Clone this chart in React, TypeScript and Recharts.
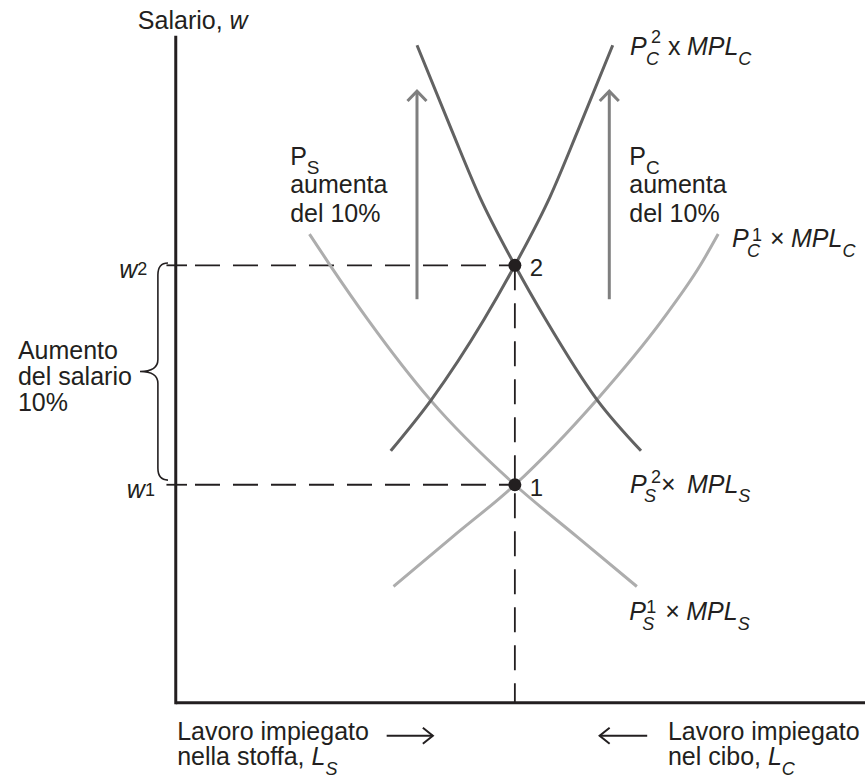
import React from "react";
import {
  ComposedChart,
  Line,
  XAxis,
  YAxis,
  ReferenceLine,
  ReferenceDot,
  ReferenceArea,
} from "recharts";

const WIDTH = 865;
const HEIGHT = 778;
// labour runs 0..100 along the box, wage 0..100 up the left axis
const X_DOMAIN: [number, number] = [-25.5, 100];
const Y_DOMAIN: [number, number] = [-11.3, 105.7];

const FONT = '"Liberation Sans", Arial, Helvetica, sans-serif';
const INK = "#231f20";
const DARK = "#626262";
const LIGHT = "#adadad";
const ARROW = "#7f7f7f";

// P_S^1 x MPL_S (cloth, before)
const clothLowL = [19.4, 22.4, 27.9, 36.9, 49.2, 58.2, 66.9];
const clothLowW = [70.5, 65.8, 57.6, 45.6, 32.8, 25.0, 17.5];
// P_C^1 x MPL_C (food, before)
const foodLowL = [31.6, 40.2, 49.2, 61.1, 70.6, 76.1, 78.7];
const foodLowW = [17.5, 25.0, 32.8, 45.6, 57.6, 65.8, 70.5];
// P_S^2 x MPL_S (cloth, after)
const clothHighL = [35.0, 40.0, 44.1, 49.2, 53.7, 61.1, 67.5];
const clothHighW = [98.9, 86.2, 76.1, 65.8, 57.6, 45.6, 37.9];
// P_C^2 x MPL_C (food, after)
const foodHighL = [31.2, 37.1, 44.7, 49.2, 54.3, 58.4, 63.4];
const foodHighW = [37.9, 45.6, 57.6, 65.8, 76.1, 86.2, 98.9];

// equilibria 1 and 2
const eqL = [49.2, 49.2];
const eqW = [32.8, 65.8];
const eqNames = ["1", "2"];

// price-rise arrows (labour position, wage from -> to)
const upArrowL = [35.0, 62.9];
const upArrowFrom = [60.7, 60.7];
const upArrowTo = [92.0, 92.0];

// labour direction arrows under the axis (from -> to, at wage level)
const sideArrowFrom = [30.6, 68.4];
const sideArrowTo = [37.3, 61.5];
const sideArrowW = -4.95;

const pts = (l: number[], w: number[]) => l.map((x, i) => ({ x, y: w[i] }));

type Part = { t: string; x?: number; y?: number; s?: number; i?: boolean };
type Note = { l: number; w: number; parts: Part[] };

const notes: Note[] = [
  { l: -5.5, w: 101.3, parts: [{ t: "Salario, " }, { t: "w", i: true }] },
  {
    l: 16.6,
    w: 80.9,
    parts: [
      { t: "P" },
      { t: "S", s: 19, y: 9 },
      { t: "aumenta", x: 0, y: 28 },
      { t: "del 10%", x: 0, y: 57 },
    ],
  },
  {
    l: 65.8,
    w: 80.9,
    parts: [
      { t: "P" },
      { t: "C", s: 19, y: 9 },
      { t: "aumenta", x: 0, y: 28 },
      { t: "del 10%", x: 0, y: 57 },
    ],
  },
  {
    l: 65.9,
    w: 97.4,
    parts: [
      { t: "P", i: true },
      { t: "2", s: 18, x: 21, y: -12 },
      { t: "C", s: 18, i: true, x: 16, y: 10 },
      { t: "x", x: 38 },
      { t: "MPL", i: true, x: 57 },
      { t: "C", s: 18, i: true, y: 10 },
    ],
  },
  {
    l: 80.7,
    w: 68.6,
    parts: [
      { t: "P", i: true },
      { t: "1", s: 18, x: 20, y: -6 },
      { t: "C", s: 18, i: true, x: 15, y: 10 },
      { t: "×", x: 38 },
      { t: "MPL", i: true, x: 59 },
      { t: "C", s: 18, i: true, y: 10 },
    ],
  },
  {
    l: 65.9,
    w: 31.6,
    parts: [
      { t: "P", i: true },
      { t: "2", s: 18, x: 21, y: -10 },
      { t: "S", s: 18, i: true, x: 14, y: 9 },
      { t: "×", x: 31 },
      { t: "MPL", i: true, x: 57 },
      { t: "S", s: 18, i: true, y: 9 },
    ],
  },
  {
    l: 65.8,
    w: 12.5,
    parts: [
      { t: "P", i: true },
      { t: "1", s: 18, x: 17, y: -7 },
      { t: "S", s: 18, i: true, x: 13, y: 10 },
      { t: "×", x: 36 },
      { t: "MPL", i: true, x: 57 },
      { t: "S", s: 18, i: true, y: 10 },
    ],
  },
  { l: -8.2, w: eqW[1], parts: [{ t: "w", i: true, y: 13 }, { t: "2", s: 18, y: 10 }] },
  { l: -7.1, w: eqW[0], parts: [{ t: "w", i: true, y: 13 }, { t: "1", s: 18, y: 11 }] },
  {
    l: -22.9,
    w: 51.7,
    parts: [
      { t: "Aumento" },
      { t: "del salario", x: 0, y: 26 },
      { t: "10%", x: 0, y: 52 },
    ],
  },
  {
    l: 0.2,
    w: -5.55,
    parts: [
      { t: "Lavoro impiegato" },
      { t: "nella stoffa, ", x: 0, y: 25 },
      { t: "L", i: true, y: 25 },
      { t: "S", s: 18, i: true, y: 35 },
    ],
  },
  {
    l: 71.4,
    w: -5.55,
    parts: [
      { t: "Lavoro impiegato" },
      { t: "nel cibo, ", x: 0, y: 25 },
      { t: "L", i: true, y: 25 },
      { t: "C", s: 18, i: true, y: 35 },
    ],
  },
];

function Rich({ cx, cy, parts }: { cx: number; cy: number; parts: Part[] }) {
  return (
    <text
      x={cx}
      y={cy}
      fontFamily={FONT}
      fontSize={25}
      fill={INK}
      style={{ whiteSpace: "pre" }}
    >
      {parts.map((p, k) => (
        <tspan
          key={k}
          x={p.x !== undefined ? cx + p.x : undefined}
          y={cy + (p.y ?? 0)}
          fontSize={p.s ?? 25}
          fontStyle={p.i ? "italic" : "normal"}
        >
          {p.t}
        </tspan>
      ))}
    </text>
  );
}

function Brace(p: any) {
  const { x, y, width, height } = p;
  const xr = x + width;
  const xm = x + width * 0.64;
  const ym = y + height / 2;
  const r = 12;
  const d =
    `M${xr},${y} Q${xm},${y} ${xm},${y + r} L${xm},${ym - r} ` +
    `Q${xm},${ym} ${x},${ym} Q${xm},${ym} ${xm},${ym + r} ` +
    `L${xm},${y + height - r} Q${xm},${y + height} ${xr},${y + height}`;
  return <path d={d} fill="none" stroke={INK} strokeWidth={1.6} />;
}

function EqDot(p: any) {
  return (
    <g key={`eq-${p.index}`}>
      <circle cx={p.cx} cy={p.cy} r={6.5} fill={INK} />
      <text x={p.cx + 15} y={p.cy + 11} fontFamily={FONT} fontSize={24} fill={INK}>
        {eqNames[p.index]}
      </text>
    </g>
  );
}

// arrow-head sizes in axis units
const HEAD_UP_X = 1.38;
const HEAD_UP_Y = 1.5;
const HEAD_SIDE_X = 1.45;
const HEAD_SIDE_Y = 1.2;

export default function App() {
  const curves = [
    { d: pts(clothLowL, clothLowW), c: LIGHT },
    { d: pts(foodLowL, foodLowW), c: LIGHT },
    { d: pts(clothHighL, clothHighW), c: DARK },
    { d: pts(foodHighL, foodHighW), c: DARK },
  ];
  const eqPts = pts(eqL, eqW);

  return (
    <div
      style={{
        position: "absolute",
        left: 0,
        top: 0,
        width: WIDTH,
        height: HEIGHT,
        background: "#fff",
      }}
    >
      <ComposedChart
        width={WIDTH}
        height={HEIGHT}
        margin={{ top: 0, right: 0, bottom: 0, left: 0 }}
      >
        <XAxis type="number" dataKey="x" domain={X_DOMAIN} hide allowDataOverflow />
        <YAxis type="number" domain={Y_DOMAIN} hide allowDataOverflow />

        {/* axes */}
        <ReferenceLine
          segment={[{ x: 0, y: 0 }, { x: 0, y: 100.1 }]}
          stroke={INK}
          strokeWidth={3}
          strokeLinecap="square"
        />
        <ReferenceLine
          segment={[{ x: 0, y: 0 }, { x: 100, y: 0 }]}
          stroke={INK}
          strokeWidth={3}
        />

        {/* wage levels */}
        {eqW.map((w, i) => (
          <ReferenceLine
            key={`tick-${i}`}
            segment={[{ x: -1.35, y: w }, { x: 1.63, y: w }]}
            stroke={INK}
            strokeWidth={1.8}
          />
        ))}
        {eqW.map((w, i) => (
          <ReferenceLine
            key={`dash-${i}`}
            segment={[{ x: 2.79, y: w }, { x: eqL[i], y: w }]}
            stroke={INK}
            strokeWidth={1.8}
            strokeDasharray="25 13"
          />
        ))}
        <ReferenceLine
          segment={[{ x: eqL[1], y: eqW[1] }, { x: eqL[1], y: 0 }]}
          stroke={INK}
          strokeWidth={1.8}
          strokeDasharray="25 13"
        />

        <ReferenceArea
          x1={-5.19}
          x2={-1.13}
          y1={33.5}
          y2={66.15}
          shape={Brace}
        />

        {notes.map((n, k) => (
          <ReferenceDot
            key={`note-${k}`}
            x={n.l}
            y={n.w}
            r={0}
            ifOverflow="visible"
            shape={(p: any) => <Rich cx={p.cx} cy={p.cy} parts={n.parts} />}
          />
        ))}

        {curves.map((c, k) => (
          <Line
            key={`curve-${k}`}
            data={c.d}
            dataKey="y"
            type="monotone"
            stroke={c.c}
            strokeWidth={3}
            dot={false}
            activeDot={false}
            isAnimationActive={false}
          />
        ))}

        {upArrowL.map((x, k) => (
          <Line
            key={`up-${k}`}
            data={[
              { x, y: upArrowFrom[k] },
              { x, y: upArrowTo[k] },
            ]}
            dataKey="y"
            type="linear"
            stroke={ARROW}
            strokeWidth={3}
            dot={false}
            activeDot={false}
            isAnimationActive={false}
          />
        ))}
        {upArrowL.map((x, k) => (
          <Line
            key={`uphead-${k}`}
            data={[
              { x: x - HEAD_UP_X, y: upArrowTo[k] - HEAD_UP_Y },
              { x, y: upArrowTo[k] },
              { x: x + HEAD_UP_X, y: upArrowTo[k] - HEAD_UP_Y },
            ]}
            dataKey="y"
            type="linear"
            stroke={ARROW}
            strokeWidth={3}
            dot={false}
            activeDot={false}
            isAnimationActive={false}
          />
        ))}

        {sideArrowFrom.map((from, k) => {
          const to = sideArrowTo[k];
          const dir = to > from ? 1 : -1;
          return (
            <Line
              key={`side-${k}`}
              data={[
                { x: from, y: sideArrowW },
                { x: to, y: sideArrowW },
              ]}
              dataKey="y"
              type="linear"
              stroke={INK}
              strokeWidth={2}
              dot={false}
              activeDot={false}
              isAnimationActive={false}
            />
          );
        })}
        {sideArrowTo.map((to, k) => {
          const dir = to > sideArrowFrom[k] ? 1 : -1;
          return (
            <Line
              key={`sidehead-${k}`}
              data={[
                { x: to - dir * HEAD_SIDE_X, y: sideArrowW + HEAD_SIDE_Y },
                { x: to, y: sideArrowW },
                { x: to - dir * HEAD_SIDE_X, y: sideArrowW - HEAD_SIDE_Y },
              ]}
              dataKey="y"
              type="linear"
              stroke={INK}
              strokeWidth={2}
              dot={false}
              activeDot={false}
              isAnimationActive={false}
            />
          );
        })}

        <Line
          data={eqPts}
          dataKey="y"
          stroke="none"
          dot={EqDot}
          activeDot={false}
          isAnimationActive={false}
        />
      </ComposedChart>
    </div>
  );
}
